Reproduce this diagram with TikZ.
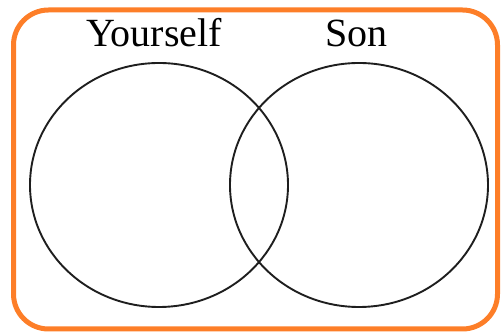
\documentclass[tikz,border=0pt]{standalone}
\usepackage{fontspec}
\setmainfont{Liberation Serif}
\usetikzlibrary{shapes.geometric}
\definecolor{frameorange}{RGB}{253,126,40}
\definecolor{circlegray}{RGB}{30,30,30}
\tikzset{
  setcircle/.style={draw=circlegray, line width=1.9pt, ellipse, minimum width=258pt, minimum height=244pt, inner sep=0pt},
  setlabel/.style={anchor=base, inner sep=0pt, font=\fontsize{40pt}{48pt}\selectfont, text=black}
}
\begin{document}
\begin{tikzpicture}[x=1pt,y=1pt]
\useasboundingbox (0,0) rectangle (501,334);
\draw[frameorange, line width=5pt, rounded corners=35pt] (13.5,5) rectangle (497.5,324);
\node[setcircle] (you) at (159,149) {};
\node[setcircle] (son) at (359,149) {};
\node[setlabel] (youlabel) at (154,287) {Yourself};
\node[setlabel] (sonlabel) at (356.5,287) {Son};
\end{tikzpicture}
\end{document}
